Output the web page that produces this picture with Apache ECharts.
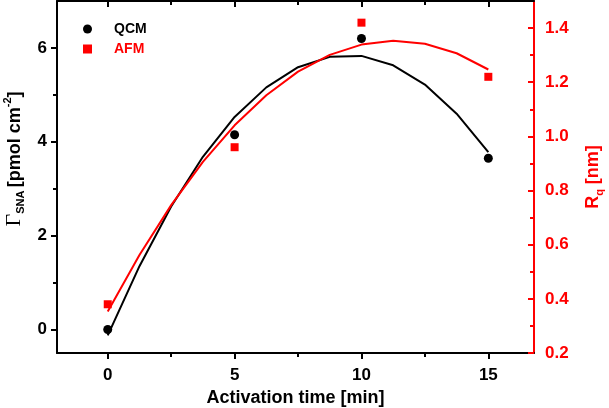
<!DOCTYPE html>
<html>
<head>
<meta charset="utf-8">
<script src="https://cdn.jsdelivr.net/npm/echarts@6/dist/echarts.min.js"></script>
<style>html,body{margin:0;padding:0;background:#fff}#c{width:609px;height:408px}</style>
</head>
<body>
<div id="c"></div>
<script>
// Measured points
const times = [0, 5, 10, 15];
const qcm = [0, 4.15, 6.2, 3.65];
const afm = [0.38, 0.96, 1.42, 1.22];
// Fit curves
const fitTimes = [0, 1.25, 2.5, 3.75, 5, 6.25, 7.5, 8.75, 10, 11.25, 12.5, 13.75, 15];
const qcmFit = [-0.125, 1.35, 2.62, 3.68, 4.53, 5.16, 5.59, 5.81, 5.83, 5.63, 5.22, 4.60, 3.78];
const afmFit = [0.353, 0.562, 0.746, 0.906, 1.041, 1.152, 1.239, 1.301, 1.339, 1.353, 1.342, 1.307, 1.247];
// Tick labels
const xTicks = [0, 5, 10, 15];
const xMinor = [2.5, 7.5, 12.5];
const leftTicks = [0, 2, 4, 6];
const leftMinor = [1, 3, 5];
const rightTicks = [0.2, 0.4, 0.6, 0.8, 1.0, 1.2, 1.4];
const rightMinor = [0.3, 0.5, 0.7, 0.9, 1.1, 1.3];

const RED = '#ff0000';
const FONT = '"Liberation Sans", Arial, sans-serif';
const zip = (a, b) => a.map((v, i) => [v, b[i]]);

const chart = echarts.init(document.getElementById('c'));
const xBase = { type: 'value', min: -2, max: 16.8, gridIndex: 0, splitLine: { show: false } };
const lineBlack = { show: true, onZero: false, lineStyle: { color: '#000', width: 2 } };
const noLine = { show: false, onZero: false };
chart.setOption({
  animation: false,
  backgroundColor: '#fff',
  grid: { left: 57, right: 75, top: 1, bottom: 55, containLabel: false, outerBoundsMode: 'none' },
  legend: {
    orient: 'vertical', left: 78, top: 17, itemGap: 6, itemWidth: 9, itemHeight: 9,
    textStyle: { fontFamily: FONT, fontWeight: 'bold', fontSize: 14, padding: [0, 0, 0, 17] },
    data: [
      { name: 'QCM', icon: 'circle', itemStyle: { color: '#000' }, textStyle: { color: '#000' } },
      { name: 'AFM', icon: 'rect', itemStyle: { color: RED }, textStyle: { color: RED } }
    ]
  },
  xAxis: [
    Object.assign({}, xBase, {
      position: 'bottom', axisLine: lineBlack,
      axisTick: { show: true, inside: false, length: 6, customValues: xTicks, lineStyle: { color: '#000', width: 2 } },
      axisLabel: { customValues: xTicks, margin: 14, color: '#000', fontFamily: FONT, fontWeight: 'bold', fontSize: 17 },
      name: 'Activation time [min]', nameLocation: 'middle', nameGap: 35,
      nameTextStyle: { color: '#000', fontFamily: FONT, fontWeight: 'bold', fontSize: 18 }
    }),
    Object.assign({}, xBase, {
      position: 'bottom', axisLine: noLine,
      axisTick: { show: true, inside: false, length: 4, customValues: xMinor, lineStyle: { color: '#000', width: 2 } },
      axisLabel: { show: false }
    }),
    Object.assign({}, xBase, {
      position: 'top', axisLine: lineBlack,
      axisTick: { show: true, inside: true, length: 6, customValues: xTicks, lineStyle: { color: '#000', width: 2 } },
      axisLabel: { show: false }
    }),
    Object.assign({}, xBase, {
      position: 'top', axisLine: noLine,
      axisTick: { show: true, inside: true, length: 4, customValues: xMinor, lineStyle: { color: '#000', width: 2 } },
      axisLabel: { show: false }
    })
  ],
  yAxis: [
    {
      type: 'value', position: 'left', min: -0.5, max: 7, splitLine: { show: false },
      axisLine: lineBlack,
      axisTick: { show: true, inside: false, length: 6, customValues: leftTicks, lineStyle: { color: '#000', width: 2 } },
      axisLabel: { customValues: leftTicks, margin: 10, color: '#000', fontFamily: FONT, fontWeight: 'bold', fontSize: 17 },
      name: '{g|Γ}{sub|SNA} {t|[pmol cm}{sup|-2}{t|]}', nameLocation: 'middle', nameGap: 27,
      nameTextStyle: {
        padding: [0, 0, 0, 36],
        rich: {
          g: { fontFamily: '"Liberation Serif", serif', fontSize: 22, color: '#000', lineHeight: 24, verticalAlign: 'middle' },
          sub: { fontFamily: FONT, fontWeight: 'bold', fontSize: 11, color: '#000', lineHeight: 24, verticalAlign: 'bottom' },
          t: { fontFamily: FONT, fontWeight: 'bold', fontSize: 18, color: '#000', lineHeight: 24, verticalAlign: 'middle' },
          sup: { fontFamily: FONT, fontWeight: 'bold', fontSize: 11, color: '#000', lineHeight: 24, verticalAlign: 'top' }
        }
      }
    },
    {
      type: 'value', position: 'left', min: -0.5, max: 7, splitLine: { show: false },
      axisLine: noLine,
      axisTick: { show: true, inside: false, length: 4, customValues: leftMinor, lineStyle: { color: '#000', width: 2 } },
      axisLabel: { show: false }
    },
    {
      type: 'value', position: 'right', min: 0.2, max: 1.5, splitLine: { show: false },
      axisLine: { show: true, onZero: false, lineStyle: { color: RED, width: 2 } },
      axisTick: { show: true, inside: true, length: 6, customValues: rightTicks, lineStyle: { color: RED, width: 2 } },
      axisLabel: { customValues: rightTicks, margin: 11, color: RED, fontFamily: FONT, fontWeight: 'bold', fontSize: 17, formatter: v => v.toFixed(1) },
      name: '{t|R}{sub|q}{t| [nm]}', nameLocation: 'middle', nameGap: 47,
      nameTextStyle: {
        rich: {
          t: { fontFamily: FONT, fontWeight: 'bold', fontSize: 18, color: RED, lineHeight: 24, verticalAlign: 'middle' },
          sub: { fontFamily: FONT, fontWeight: 'bold', fontSize: 11, color: RED, lineHeight: 24, verticalAlign: 'bottom' }
        }
      }
    },
    {
      type: 'value', position: 'right', min: 0.2, max: 1.5, splitLine: { show: false },
      axisLine: noLine,
      axisTick: { show: true, inside: true, length: 4, customValues: rightMinor, lineStyle: { color: RED, width: 2 } },
      axisLabel: { show: false }
    }
  ],
  series: [
    { name: 'QCM fit', type: 'line', xAxisIndex: 0, yAxisIndex: 0, data: zip(fitTimes, qcmFit), smooth: false, showSymbol: false, lineStyle: { color: '#000', width: 2 }, z: 2 },
    { name: 'AFM fit', type: 'line', xAxisIndex: 0, yAxisIndex: 2, data: zip(fitTimes, afmFit), smooth: false, showSymbol: false, lineStyle: { color: RED, width: 2 }, z: 3 },
    { name: 'QCM', type: 'scatter', xAxisIndex: 0, yAxisIndex: 0, data: zip(times, qcm), symbol: 'circle', symbolSize: 9, itemStyle: { color: '#000', opacity: 1 }, z: 4 },
    { name: 'AFM', type: 'scatter', xAxisIndex: 0, yAxisIndex: 2, data: zip(times, afm), symbol: 'rect', symbolSize: 8, itemStyle: { color: RED, opacity: 1 }, z: 5 }
  ]
});
</script>
</body>
</html>
